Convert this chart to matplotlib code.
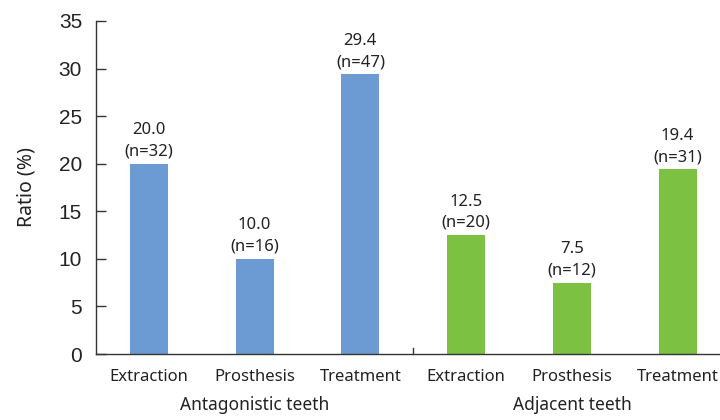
import matplotlib
matplotlib.use("Agg")
import matplotlib.pyplot as plt

categories = ["Extraction", "Prosthesis", "Treatment",
              "Extraction", "Prosthesis", "Treatment"]
ratios = [20.0, 10.0, 29.4, 12.5, 7.5, 19.4]
counts = [32, 16, 47, 20, 12, 31]
groups = ["Antagonistic teeth", "Adjacent teeth"]
colors = ["#6b9bd2"] * 3 + ["#7dc142"] * 3
y_ticks = [0, 5, 10, 15, 20, 25, 30, 35]

label_font = "Noto Sans"
num_font = "Liberation Sans"
text_color = "#222222"

fig = plt.figure(figsize=(7.2, 4.2), dpi=100)
ax = fig.add_axes([96 / 720, 66 / 420, 1 - 96 / 720, 333 / 420])

x = list(range(len(categories)))
ax.bar(x, ratios, width=0.36, color=colors, zorder=2)

for xi, r, n in zip(x, ratios, counts):
    ax.annotate(f"{r:.1f}\n(n={n})", xy=(xi, r), xytext=(0, 3),
                textcoords="offset points", ha="center", va="bottom",
                fontsize=12, family=label_font, color=text_color,
                linespacing=1.45)

ax.set_xlim(-0.5, 5.4)
ax.set_ylim(0, 35)
ax.set_yticks(y_ticks)
ax.set_yticklabels([str(t) for t in y_ticks], family=num_font, fontsize=15,
                   color=text_color)
ax.set_xticks(x)
ax.set_xticklabels(categories, family=label_font, fontsize=12,
                   color=text_color)
ax.tick_params(axis="x", length=0, pad=11)
ax.tick_params(axis="y", direction="in", length=7, width=1, color="#333333",
               pad=10)

for side in ("top", "right"):
    ax.spines[side].set_visible(False)
for side in ("left", "bottom"):
    ax.spines[side].set_color("#333333")
    ax.spines[side].set_linewidth(1)

# divider between the two groups
ax.plot([2.5, 2.5], [0, 0.6], color="#333333", lw=1, clip_on=False)

for gi, name in enumerate(groups):
    ax.text(gi * 3 + 1, -0.125, name, transform=ax.get_xaxis_transform(),
            ha="center", va="top", fontsize=12.5, family=label_font,
            color=text_color)

ax.set_ylabel("Ratio (%)", family=label_font, fontsize=14, color=text_color,
              labelpad=16)

fig.savefig("out.png", dpi=100)
